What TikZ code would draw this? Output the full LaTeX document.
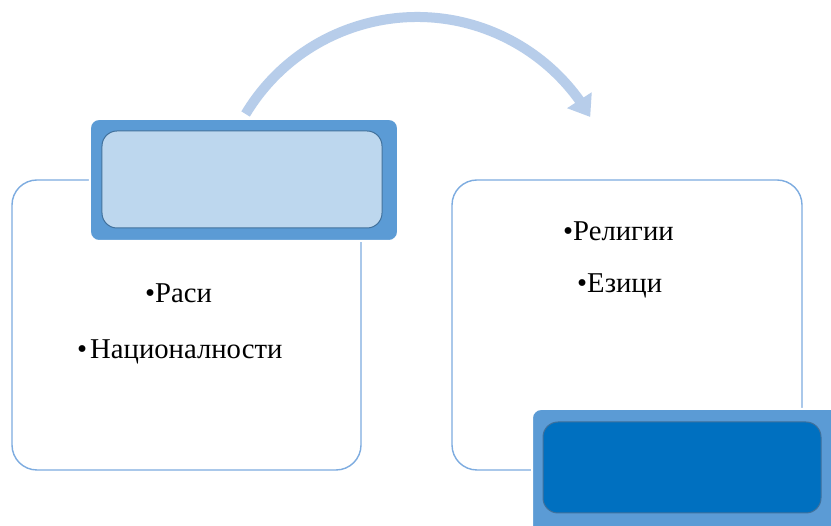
\documentclass[tikz,border=0pt]{standalone}
\usepackage{fontspec}
\setmainfont{Liberation Serif}
\newfontfamily\itemfont{Liberation Serif}
\usetikzlibrary{arrows.meta,bending}
\definecolor{boxline}{RGB}{125,172,224}
\definecolor{hdrout}{RGB}{91,155,213}
\definecolor{hdrlight}{RGB}{189,215,238}
\definecolor{hdrdark}{RGB}{0,112,192}
\definecolor{hdrrim}{RGB}{65,113,156}
\definecolor{arccol}{RGB}{183,205,234}
\tikzset{
  x=1bp, y=1bp,
  contentbox/.style={draw=boxline, line width=1.4bp, rounded corners=25bp, fill=white, inner sep=0pt},
  hdrouter/.style={fill=hdrout, draw=white, line width=2bp, rounded corners=9bp, inner sep=0pt},
  hdrinner/.style={draw=hdrrim, line width=1bp, rounded corners=15bp, inner sep=0pt},
  itemtext/.style={font=\itemfont\fontsize{28.8}{34}\selectfont, anchor=base west, inner sep=0pt, text=black},
  flowarc/.style={draw=arccol, line width=10bp, -{Triangle[length=20bp,width=28bp,flex]}}
}
\begin{document}
\begin{tikzpicture}
\useasboundingbox (0,0) rectangle (831,526);
\clip (0,0) rectangle (831,526);
\fill[white] (0,0) rectangle (831,526);
% content boxes
\node[contentbox, minimum width=349bp, minimum height=290bp] (leftbox) at (186.5,201) {};
\node[contentbox, minimum width=350bp, minimum height=290bp] (rightbox) at (627,201) {};
% headers
\node[hdrouter, minimum width=308bp, minimum height=122bp] (hdrA) at (244,346) {};
\node[hdrinner, fill=hdrlight, minimum width=280bp, minimum height=97bp] (hdrAin) at (242,346.5) {};
\node[hdrouter, minimum width=318bp, minimum height=150bp] (hdrB) at (691,42) {};
\node[hdrinner, fill=hdrdark, minimum width=278bp, minimum height=91bp] (hdrBin) at (682,58.5) {};
% texts
\node[itemtext] (t1) at (145,223) {•Раси};
\node[itemtext] (t2) at (77,167) {•\hspace{3bp}Националности};
\node[itemtext] (t3) at (563,285) {•Религии};
\node[itemtext] (t4) at (577,233) {•Езици};
% arc arrow
\coordinate (arcS) at (245.6,412);
\draw[flowarc] (arcS) arc[start angle=149, end angle=30, radius=200];
\end{tikzpicture}
\end{document}
